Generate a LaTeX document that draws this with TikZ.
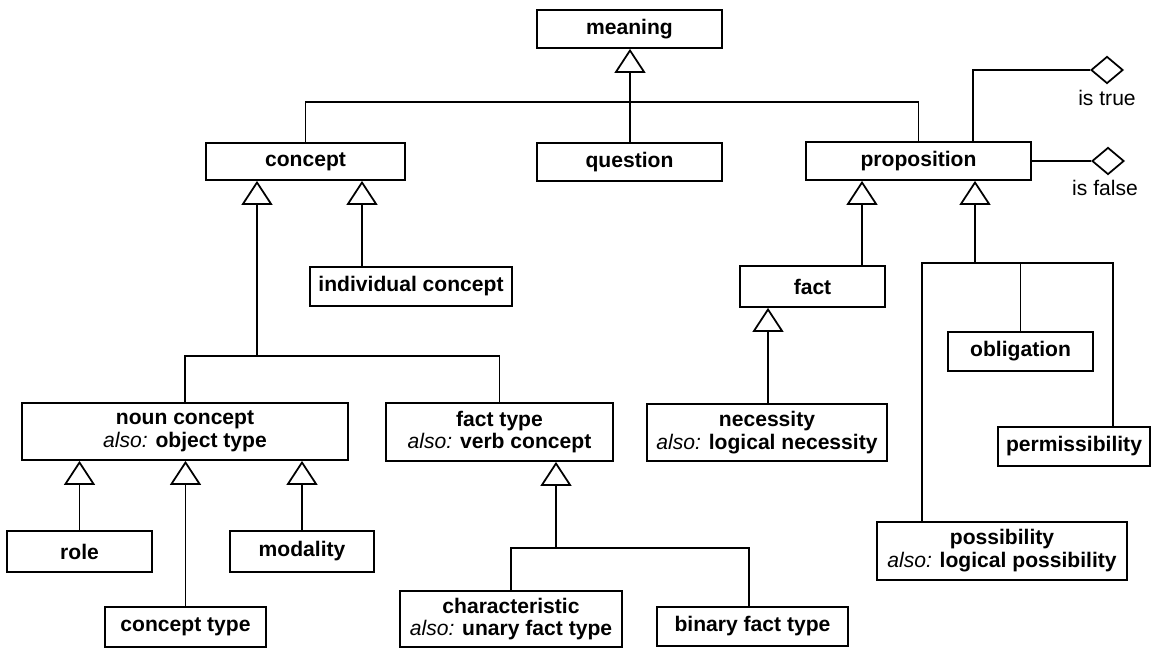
\documentclass[tikz,border=0pt]{standalone}
\usepackage{fontspec}
\setmainfont{Liberation Sans}
\usetikzlibrary{arrows.meta}
\usetikzlibrary{shapes.geometric}
\newcommand{\alsoname}{\textmd{\textit{also:}} }
\tikzset{
    cls/.style={draw, rectangle, line width=1pt, fill=white, align=center, inner sep=0pt, font=\bfseries\fontsize{12}{13}\selectfont},
    boxsize/.style 2 args={minimum width=#1cm, minimum height=#2cm},
    link/.style={line width=1pt},
    gen/.style={link, -{Triangle[open, length=0.48cm, width=0.62cm, line width=1pt]}},
    thickgen/.style={gen, line width=1.6pt},
    fork/.style={draw, diamond, line width=1pt, inner sep=0pt, minimum width=0.64cm, minimum height=0.54cm},
    forklabel/.style={font=\fontsize{12}{13}\selectfont}
}

\begin{document}
\begin{tikzpicture}[x=0.02cm, y=-0.02cm]
    \useasboundingbox (0,0) rectangle (1151,648);

    \node[cls, boxsize={3.70}{0.76}] (meaning) at (629.5,29) {meaning};
    \node[cls, boxsize={3.98}{0.74}] (concept) at (305.5,161.5) {concept};
    \node[cls, boxsize={3.70}{0.76}] (question) at (629.5,162) {question};
    \node[cls, boxsize={4.50}{0.76}] (proposition) at (918.5,161) {proposition};
    \node[cls, boxsize={4.04}{0.78}] (indiv) at (411,286.5) {individual concept};
    \node[cls, boxsize={2.90}{0.82}] (fact) at (812.5,286.5) {fact};
    \node[cls, boxsize={2.90}{0.78}] (obligation) at (1020.5,351.5) {obligation};
    \node[cls, boxsize={6.52}{1.14}] (nounc) at (185,431.5) {noun concept\\\alsoname object type};
    \node[cls, boxsize={4.54}{1.16}] (facttype) at (499.5,432) {fact type\\\alsoname verb concept};
    \node[cls, boxsize={4.80}{1.14}] (necessity) at (767,432.5) {necessity\\\alsoname logical necessity};
    \node[cls, boxsize={3.04}{0.78}] (permiss) at (1074,446.5) {permissibility};
    \node[cls, boxsize={5.00}{1.16}] (possib) at (1002,551) {possibility\\\alsoname logical possibility};
    \node[cls, boxsize={2.90}{0.82}] (role) at (79.5,551.5) {role};
    \node[cls, boxsize={2.88}{0.82}] (modality) at (302,551.5) {modality};
    \node[cls, boxsize={3.22}{0.80}] (concepttype) at (185.5,627) {concept type};
    \node[cls, boxsize={4.44}{1.12}] (charac) at (511,619) {characteristic\\\alsoname unary fact type};
    \node[cls, boxsize={3.82}{0.78}] (binary) at (752.5,626.5) {binary fact type};

    \node[fork] (istrue) at (1107,70) {};
    \node[forklabel] (istrue-l) at (1107,98) {is true};
    \node[fork] (isfalse) at (1108,161) {};
    \node[forklabel] (isfalse-l) at (1105,188) {is false};

    \coordinate (mbus) at (630,102);
    \coordinate (cbus) at (257,356);
    \coordinate (pbus) at (975,263);
    \coordinate (fbus) at (556,548);

    \draw[link] (concept.north) |- (mbus) -| (proposition.north);
    \draw[link] (mbus |- question.north) -- (mbus);
    \draw[thickgen] (mbus) -- (meaning.south -| mbus);

    \draw[gen] (cbus) -- (concept.south -| cbus);
    \draw[link] (nounc.north) |- (cbus) -| (facttype.north);
    \draw[gen] (indiv.north -| 362,0) -- (concept.south -| 362,0);

    \draw[gen] (fact.north -| 862,0) -- (proposition.south -| 862,0);
    \draw[thickgen] (pbus) -- (proposition.south -| pbus);
    \draw[link] (possib.north -| 922,0) |- (pbus) -| (permiss.north -| 1113,0);
    \draw[link] (obligation.north) -- (obligation.north |- pbus);
    \draw[gen] (necessity.north -| 768,0) -- (fact.south -| 768,0);

    \draw[gen] (role.north) -- (nounc.south -| role.north);
    \draw[gen] (concepttype.north) -- (nounc.south -| concepttype.north);
    \draw[gen] (modality.north) -- (nounc.south -| modality.north);

    \draw[gen] (fbus) -- (facttype.south -| fbus);
    \draw[link] (charac.north) |- (fbus) -| (binary.north -| 749,0);

    \draw[link] (proposition.north -| 973,0) |- (istrue.west);
    \draw[link] (proposition.east) -- (isfalse.west);
\end{tikzpicture}
\end{document}
